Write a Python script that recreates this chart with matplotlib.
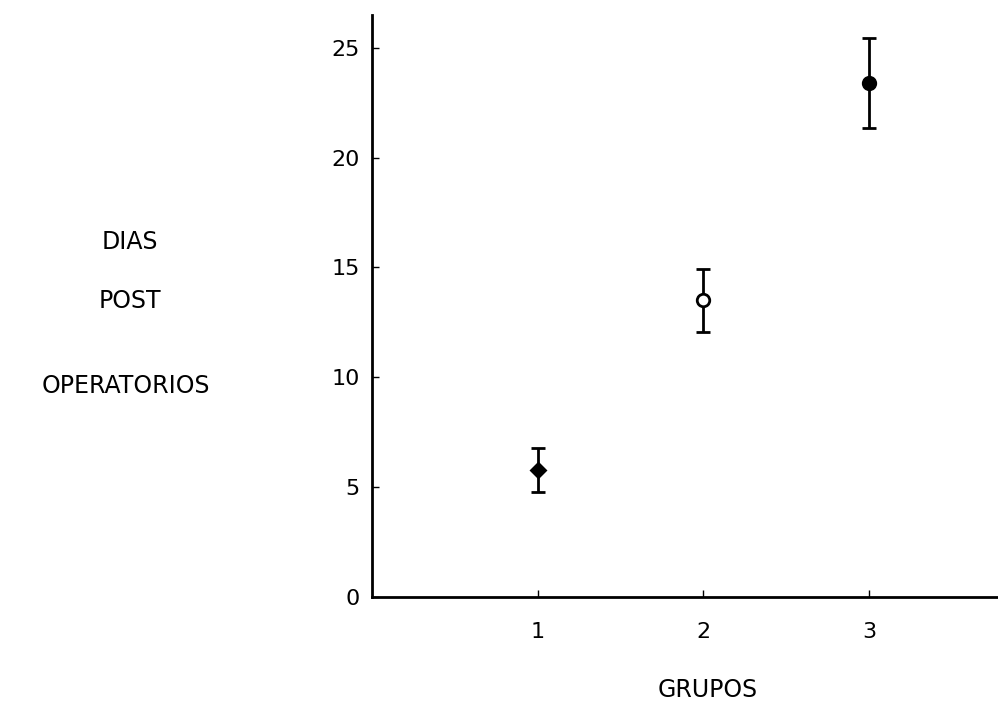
import numpy as np
import matplotlib.pyplot as plt

# datos
grupos = [1, 2, 3]
dias_media = [5.8, 13.5, 23.4]
dias_error = [1.0, 1.45, 2.05]
marcadores = ['D', 'o', 'o']
relleno = ['black', 'white', 'black']
y_ticks = [0, 5, 10, 15, 20, 25]

plt.rcParams['font.family'] = ['DejaVu Sans']

fig = plt.figure(figsize=(9.98, 7.04), dpi=100)
ax = fig.add_axes([0.3727, 0.152, 0.6273, 0.827])

for g, m, e, mk, fc in zip(grupos, dias_media, dias_error, marcadores, relleno):
    ax.errorbar(g, m, yerr=e, fmt=mk, color='black', mfc=fc, mec='black',
                ms=7 if mk == 'D' else 9, mew=2, elinewidth=2, capsize=5, capthick=2)

ax.set_xlim(0, 3.78)
ax.set_ylim(0, 26.5)
ax.set_xticks(grupos)
ax.set_yticks(y_ticks)
ax.tick_params(direction='in', length=5, width=1, labelsize=16, pad=9)
ax.tick_params(axis='x', pad=18)
for s in ['top', 'right']:
    ax.spines[s].set_visible(False)
for s in ['left', 'bottom']:
    ax.spines[s].set_linewidth(2)

fig.text(0.7094, 1 - 690 / 704, 'GRUPOS', ha='center', va='center', fontsize=17)
fig.text(0.13, 1 - 242 / 704, 'DIAS', ha='center', va='center', fontsize=17)
fig.text(0.13, 1 - 301 / 704, 'POST', ha='center', va='center', fontsize=17)
fig.text(0.126, 1 - 386 / 704, 'OPERATORIOS', ha='center', va='center', fontsize=17)

fig.savefig('out.png', dpi=100)
